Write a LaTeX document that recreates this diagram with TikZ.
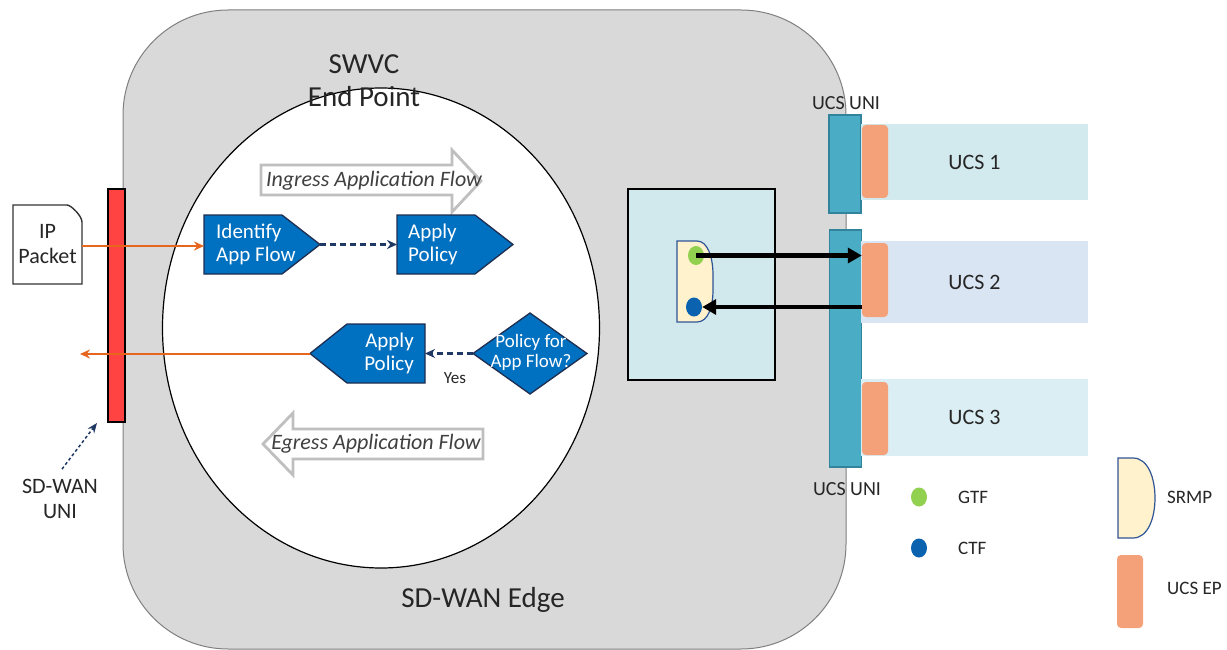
\documentclass[tikz,border=0pt]{standalone}
\usepackage{fontspec}
\setmainfont{Carlito}
\usetikzlibrary{arrows.meta,shapes.geometric}
\definecolor{edgegray}{HTML}{D9D9D9}
\definecolor{edgeline}{HTML}{808080}
\definecolor{txt}{HTML}{262626}
\definecolor{flowtxt}{HTML}{404040}
\definecolor{flowline}{HTML}{BFBFBF}
\definecolor{boxblue}{HTML}{0070C0}
\definecolor{boxline}{HTML}{1F2D4F}
\definecolor{navy}{HTML}{203864}
\definecolor{orng}{HTML}{E8651D}
\definecolor{unired}{HTML}{FF4343}
\definecolor{teal}{HTML}{4BACC6}
\definecolor{tealline}{HTML}{31849B}
\definecolor{epor}{HTML}{F4A078}
\definecolor{ucsa}{HTML}{D2E9ED}
\definecolor{ucsb}{HTML}{DAE5F3}
\definecolor{ucsc}{HTML}{DBEEF3}
\definecolor{midfill}{HTML}{D1E8EC}
\definecolor{srmpfill}{HTML}{FFF2CC}
\definecolor{srmpline}{HTML}{2F5597}
\definecolor{gtfgreen}{HTML}{92D050}
\definecolor{ctfblue}{HTML}{0B63B0}
\tikzset{
  lbl/.style={text=txt, inner sep=0pt, font=\fontsize{22}{25}\selectfont, align=center},
  flowarrow/.style={draw=flowline, line width=2.8pt, fill=white},
  flowlbl/.style={text=flowtxt, inner sep=0pt, font=\fontsize{22}{25}\selectfont\itshape},
  bluebox/.style={fill=boxblue, draw=boxline, line width=1.3pt},
  bluetxt/.style={text=white, inner sep=0pt, font=\fontsize{21}{23}\selectfont},
  orangearrow/.style={draw=orng, line width=2.8pt, -{Stealth[length=10pt,width=9pt]}},
  navydash/.style={draw=navy, line width=2.6pt, dash pattern=on 6pt off 4pt, -{Stealth[length=10pt,width=9pt]}},
  thindash/.style={draw=navy, line width=1.5pt, dash pattern=on 3pt off 2.5pt, -{Stealth[length=10pt,width=8pt]}},
  unibar/.style={fill=teal, draw=tealline, line width=1.8pt, minimum width=32pt, inner sep=0pt},
  ucsbar/.style={draw=none, inner sep=0pt, minimum width=227pt, text=txt, font=\fontsize{22}{25}\selectfont},
  ucsep/.style={fill=epor, draw=none, rounded corners=4pt, inner sep=0pt, minimum width=26pt},
  dot/.style={ellipse, inner sep=0pt, minimum width=16pt, minimum height=19pt, draw=none},
  blk/.style={draw=black, line width=4.4pt, -{Triangle[length=14pt,width=15pt]}},
  legtxt/.style={text=txt, inner sep=0pt, font=\fontsize{19}{22}\selectfont, anchor=west},
}
\begin{document}
\begin{tikzpicture}[x=1pt,y=-1pt]
\useasboundingbox (0,0) rectangle (1227,650);
% SD-WAN Edge
\draw[fill=edgegray, draw=edgeline, line width=1pt, rounded corners=105pt] (123,10) rectangle (846,649);
\node[lbl, font=\fontsize{29}{33}\selectfont] (edge) at (483,600) {SD-WAN Edge};
% SWVC End Point
\node (ep) [draw=black, line width=1.2pt, fill=white, ellipse, minimum width=437pt, minimum height=480pt, inner sep=0pt] at (381,328) {};
\node[lbl, font=\fontsize{29}{33}\selectfont] (swvc) at (364,81) {SWVC\\End Point};
% SD-WAN UNI bar
\node (uni) [fill=unired, draw=black, line width=1.3pt, minimum width=17pt, minimum height=233pt, inner sep=0pt] at (116.5,305.5) {};
\node[lbl] (unilbl) at (60,499) {SD-WAN\\UNI};
\draw[thindash] (unilbl.north) ++(2,-10) coordinate (ua) -- (97,423) coordinate (ub);
% IP packet
\draw[fill=white, draw=black!80, line width=1.4pt] (13,205) -- (67,205) .. controls (71,205) and (82,216) .. (82,222) -- (82,284) -- (13,284) -- cycle;
\node[lbl] (ip) at (47.5,244.5) {IP\\Packet};
\coordinate (ipR) at (82,246);
% Ingress flow
\draw[flowarrow] (261,165) -- (452,165) -- (452,150) -- (481,181) -- (452,212) -- (452,195) -- (261,195) -- cycle;
\node[flowlbl] (ingress) at (374,181) {Ingress Application Flow};
% Egress flow
\draw[flowarrow] (483,429) -- (293,429) -- (293,413) -- (263,444) -- (293,475) -- (293,459) -- (483,459) -- cycle;
\node[flowlbl] (egress) at (376,444) {Egress Application Flow};
% Identify App Flow
\draw[bluebox] (204,215) -- (282,215) -- (320,244.5) -- (282,274) -- (204,274) -- cycle;
\node[bluetxt, anchor=west, align=left] (ident) at (216,244) {Identify\\App Flow};
\coordinate (idL) at (204,246);
\coordinate (idR) at (320,244.5);
% Apply Policy (ingress)
\draw[bluebox] (397,215) -- (475,215) -- (513,244.5) -- (475,274) -- (397,274) -- cycle;
\node[bluetxt, anchor=west, align=left] (apin) at (408,244) {Apply\\Policy};
\coordinate (apL) at (397,244.5);
% Apply Policy (egress)
\draw[bluebox] (425,324) -- (347,324) -- (310,353.5) -- (347,383) -- (425,383) -- cycle;
\node[bluetxt, anchor=east, align=right] (apout) at (414,353) {Apply\\Policy};
\coordinate (aoL) at (310,354);
\coordinate (aoR) at (425,353.5);
% Decision
\draw[bluebox] (530,313) -- (587,353.5) -- (530,394) -- (473,353.5) -- cycle;
\node[bluetxt, align=center, font=\fontsize{19}{20}\selectfont] (dec) at (531,352) {Policy for\\App Flow?};
\coordinate (decL) at (473,353.5);
\node[text=txt, inner sep=0pt, font=\fontsize{17}{20}\selectfont] (yes) at (455,378) {Yes};
% connectors in end point
\draw[orangearrow] (ipR) -- (idL);
\draw[orangearrow] (aoL) -- (80,354) coordinate (outL);
\draw[navydash] (idR) -- (apL);
\draw[navydash] (decL) -- (aoR);
% middle box
\node (mid) [fill=midfill, draw=black, line width=2.8pt, minimum width=147pt, minimum height=191pt, inner sep=0pt] at (701.5,284.5) {};
\draw[fill=srmpfill, draw=srmpline, line width=1.2pt] (677,241) -- (697,241) .. controls (708,241) and (713,258) .. (713,275) -- (713,290) .. controls (713,307) and (708,322) .. (697,322) -- (677,322) -- cycle;
\node[dot, fill=gtfgreen] (g1) at (696,255.5) {};
\node[dot, fill=ctfblue] (c1) at (694,307) {};
% UCS UNI bars
\node[unibar, minimum height=98pt] (uni1) at (845,164) {};
\node[unibar, minimum height=237pt] (uni2) at (845.5,348.5) {};
\node[text=txt, inner sep=0pt, font=\fontsize{20}{24}\selectfont] (unit) at (846,103) {UCS UNI};
\node[text=txt, inner sep=0pt, font=\fontsize{20}{24}\selectfont] (unib) at (847,489) {UCS UNI};
% UCS domains
\node[ucsbar, fill=ucsa, minimum height=76pt] (ucs1) at (974.5,162) {UCS 1};
\node[ucsbar, fill=ucsb, minimum height=82pt] (ucs2) at (974.5,282) {UCS 2};
\node[ucsbar, fill=ucsc, minimum height=77pt] (ucs3) at (974.5,417.5) {UCS 3};
\node[ucsep, minimum height=73pt] (ep1) at (875,161.5) {};
\node[ucsep, minimum height=74pt] (ep2) at (875,280) {};
\node[ucsep, minimum height=73pt] (ep3) at (875,418.5) {};
% GTF / CTF arrows
\draw[blk] (g1.center) -- (ep2.west |- g1.center);
\draw[blk] (ep2.west |- c1.center) -- (c1.east);
% legend
\node[dot, fill=gtfgreen] (lg) at (919,497) {};
\node[legtxt] (lgt) at (958,497) {GTF};
\node[dot, fill=ctfblue] (lc) at (919,548) {};
\node[legtxt] (lct) at (958,548) {CTF};
\draw[fill=srmpfill, draw=srmpline, line width=1.2pt] (1118,458) -- (1133,458) .. controls (1148,458) and (1155,478) .. (1155,498) .. controls (1155,518) and (1148,538) .. (1133,538) -- (1118,538) -- cycle;
\node[legtxt] (ls) at (1167,497) {SRMP};
\node[ucsep, minimum height=73pt] (le) at (1130,591.5) {};
\node[legtxt] (let) at (1167,588) {UCS EP};
\end{tikzpicture}
\end{document}
